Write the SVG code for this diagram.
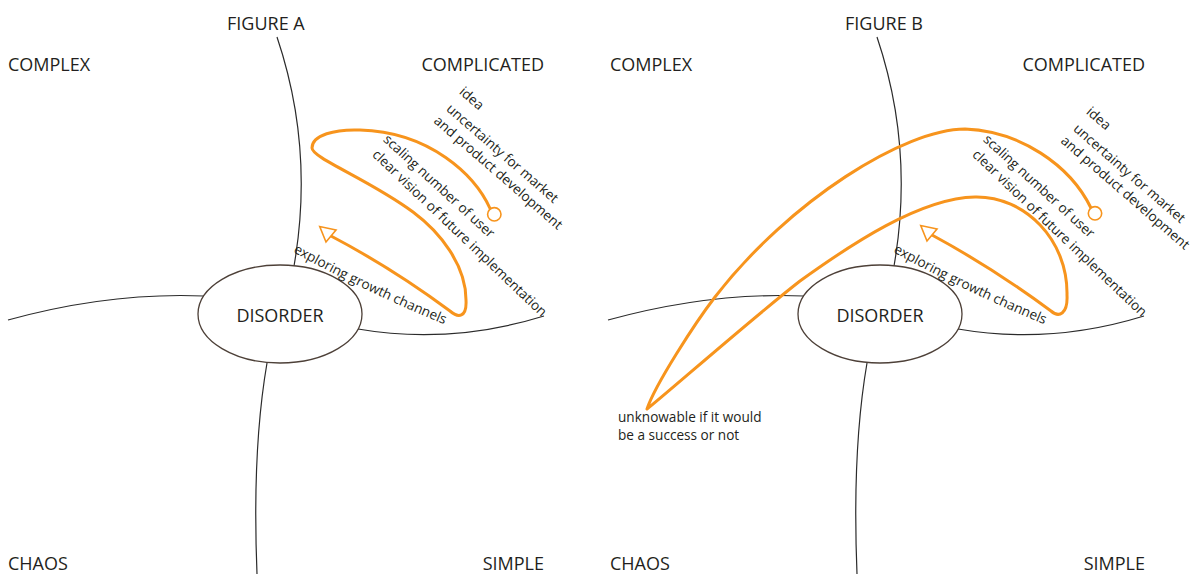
<svg xmlns="http://www.w3.org/2000/svg" xmlns:xlink="http://www.w3.org/1999/xlink" width="1198" height="574" viewBox="0 0 1198 574">
  <style>
    .label { font-family: "Open Sans", "Liberation Sans", sans-serif; font-size: 18px; fill: #231f20; }
    .note { font-family: "Open Sans", "Liberation Sans", sans-serif; font-size: 13.6px; fill: #231f20; }
    .divider { fill: none; stroke: #2b2b2b; stroke-width: 1.2; }
    .domain { fill: #fff; stroke: #4d4038; stroke-width: 1.3; }
    .journey { fill: none; stroke: #f7941d; stroke-width: 3; stroke-linejoin: round; stroke-linecap: round; }
    .start { fill: #fff; stroke: #f7941d; stroke-width: 1.6; }
  </style>
  <defs>
    <marker id="arrow-open" markerUnits="userSpaceOnUse" markerWidth="24" markerHeight="24" viewBox="-3 -12 24 24" refX="0" refY="0" orient="220">
      <path d="M0,-7.8 L14.7,0 L0,7.8 Z" fill="#fff" stroke="#f7941d" stroke-width="1.6"/>
    </marker>
    <path id="arc-a" d="M 293 252 Q 365 292 458 330"/>
    <path id="arc-b" d="M 893 252 Q 965 292 1058 330"/>
  </defs>

  <rect width="1198" height="574" fill="#fff"/>

  <!-- Figure A: domain boundaries -->
  <g id="connectors-a">
    <path class="divider" d="M 277 37 Q 314.5 148.5 294 266"/>
    <path class="divider" d="M 8 320 Q 110 292 204 296"/>
    <path class="divider" d="M 358 329 Q 450 345 544 316"/>
    <path class="divider" d="M 267 363 Q 252 450 257 574"/>
    <!-- product journey -->
    <path class="journey" marker-end="url(#arrow-open)"
      d="M 490.3 209 C 475 175 430 132 360 130
         C 335 129 312 135 312 148
         C 312 158 370 180 413 212
         C 440 232 466 265 466 300
         C 467 318 458 318 450 311
         Q 392 268 331 236"/>
    <circle class="start" cx="494.3" cy="214.3" r="6.7"/>
  </g>

  <g id="disorder-a">
    <ellipse class="domain" cx="280" cy="314" rx="82" ry="49"/>
    <text class="label" x="280" y="322" text-anchor="middle">DISORDER</text>
  </g>

  <g id="labels-a">
    <text class="label" x="227" y="30">FIGURE A</text>
    <text class="label" x="8" y="71">COMPLEX</text>
    <text class="label" x="544" y="71" text-anchor="end">COMPLICATED</text>
    <text class="label" x="8" y="570">CHAOS</text>
    <text class="label" x="544" y="570" text-anchor="end">SIMPLE</text>
  </g>

  <g id="notes-a">
    <text class="note" transform="translate(458.5 93) rotate(41)">idea</text>
    <text class="note" transform="translate(445.5 110) rotate(41)">uncertainty for market</text>
    <text class="note" transform="translate(433 122) rotate(41)">and product development</text>
    <text class="note" transform="translate(382.5 140.5) rotate(42.5)">scaling number of user</text>
    <text class="note" transform="translate(371.5 155.5) rotate(43.6)">clear vision of future implementation</text>
    <text class="note"><textPath href="#arc-a" xlink:href="#arc-a">exploring growth channels</textPath></text>
  </g>

  <!-- Figure B: domain boundaries -->
  <g id="connectors-b">
    <path class="divider" d="M 877 37 Q 914.5 148.5 894 266"/>
    <path class="divider" d="M 608 320 Q 710 292 804 296"/>
    <path class="divider" d="M 958 329 Q 1050 345 1144 316"/>
    <path class="divider" d="M 867 363 Q 852 450 857 574"/>
    <!-- product journey with a detour into chaos -->
    <path class="journey" marker-end="url(#arrow-open)"
      d="M 1091 208 C 1070 165 1020 131 965 129
         C 905 129 790 200 715 297
         C 695 323 655 385 647 409
         C 665 395 750 320 800 281
         C 850 245 920 198 975 197
         C 1025 196 1068 240 1067 295
         C 1068 314 1059 318 1051 311
         Q 993 268 932 235"/>
    <circle class="start" cx="1095" cy="213.3" r="6.7"/>
  </g>

  <g id="disorder-b">
    <ellipse class="domain" cx="880" cy="314" rx="82" ry="49"/>
    <text class="label" x="880" y="322" text-anchor="middle">DISORDER</text>
  </g>

  <g id="labels-b">
    <text class="label" x="845" y="30">FIGURE B</text>
    <text class="label" x="610" y="71">COMPLEX</text>
    <text class="label" x="1145" y="71" text-anchor="end">COMPLICATED</text>
    <text class="label" x="610" y="570">CHAOS</text>
    <text class="label" x="1145" y="570" text-anchor="end">SIMPLE</text>
  </g>

  <g id="notes-b">
    <text class="note" transform="translate(1085.5 113) rotate(41)">idea</text>
    <text class="note" transform="translate(1072.5 130) rotate(41)">uncertainty for market</text>
    <text class="note" transform="translate(1060 142) rotate(41)">and product development</text>
    <text class="note" transform="translate(982.5 140.5) rotate(42.5)">scaling number of user</text>
    <text class="note" transform="translate(971.5 155.5) rotate(43.6)">clear vision of future implementation</text>
    <text class="note"><textPath href="#arc-b" xlink:href="#arc-b">exploring growth channels</textPath></text>
    <text class="note" x="618" y="422">unknowable if it would</text>
    <text class="note" x="618" y="440">be a success or not</text>
  </g>
</svg>
